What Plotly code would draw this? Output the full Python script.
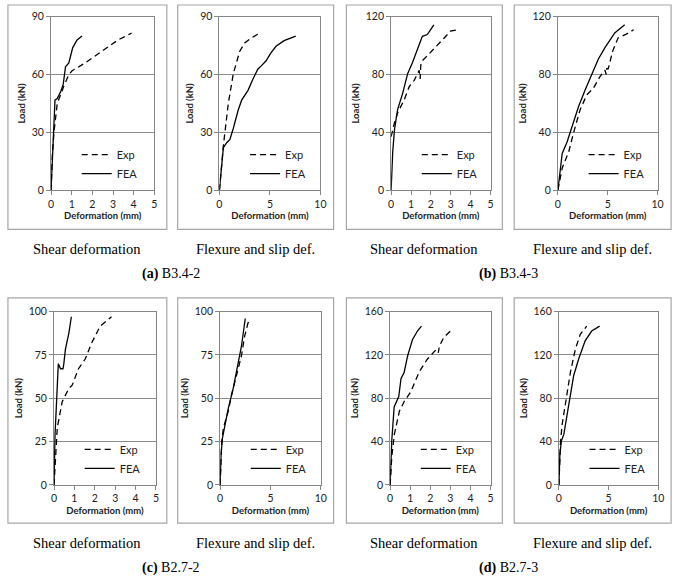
import plotly.graph_objects as go

W, H = 685, 580

# ---------------- data ----------------
# (a) B3.4-2 shear
a_sh_exp_x = [0, 0.06, 0.14, 0.3, 0.62, 0.86, 1.02, 1.65, 2.45, 3.25, 3.9]
a_sh_exp_y = [0, 18, 30, 45, 54, 60, 62, 66, 72, 78, 81.5]
a_sh_fea_x = [0, 0.1, 0.19, 0.3, 0.46, 0.59, 0.7, 0.86, 1.05, 1.26, 1.5]
a_sh_fea_y = [0, 29.7, 46.7, 47.5, 51, 55, 64, 66, 74, 78, 80]
# (a) B3.4-2 flexure
a_fl_exp_x = [0, 0.39, 0.88, 1.37, 2.0, 2.5, 3.16, 3.97]
a_fl_exp_y = [0, 23, 45, 60.3, 72, 76.4, 79, 81.5]
a_fl_fea_x = [0, 0.23, 0.39, 0.72, 1.04, 1.37, 1.86, 2.2, 2.83, 3.32, 3.8, 4.14, 4.6, 5.1, 5.6, 6.4, 7.4, 7.55]
a_fl_fea_y = [0, 16, 22, 24.6, 26.3, 32, 41.6, 46.7, 51.8, 57.7, 62.8, 64.5, 67, 71.3, 74.7, 77.6, 79.8, 80]
# (b) B3.4-3 shear
b_sh_exp_x = [0, 0.17, 0.33, 0.66, 0.91, 1.16, 1.41, 1.46, 1.5, 1.57, 1.82, 2.32, 2.65, 2.98, 3.31]
b_sh_exp_y = [37, 46.8, 53.6, 62.6, 71.6, 76, 82.9, 77, 88, 89.6, 93, 99.8, 105, 110, 111]
b_sh_fea_x = [0, 0.08, 0.17, 0.33, 0.58, 0.83, 1.08, 1.41, 1.57, 1.82, 2.15]
b_sh_fea_y = [0, 26.6, 42, 56, 67, 80.6, 88.5, 99.8, 106.5, 107.7, 114.4]
# (b) B3.4-3 flexure
b_fl_exp_x = [0, 0.43, 1.09, 1.58, 2.24, 2.9, 3.56, 4.2, 4.72, 4.85, 4.9, 5.05, 5.5, 6.04, 6.86, 7.6]
b_fl_exp_y = [0, 15.3, 26.6, 40, 55.9, 66, 70.5, 78.4, 83, 80, 84, 84, 96.4, 105.4, 108, 111]
b_fl_fea_x = [0, 0.26, 0.43, 0.92, 1.42, 2.08, 2.74, 3.4, 4.06, 4.72, 5.7, 6.7]
b_fl_fea_y = [0, 15.3, 25.4, 33.3, 44.6, 58, 69.4, 80.6, 90.8, 98.6, 108.8, 114.4]
# (c) B2.7-2 shear
c_sh_exp_x = [0, 0.08, 0.16, 0.4, 0.73, 0.89, 1.2, 1.53, 1.85, 2.26, 2.82]
c_sh_exp_y = [0, 18, 33, 48, 55.7, 57.5, 67, 72.6, 82, 91.5, 97]
c_sh_fea_x = [0, 0.05, 0.21, 0.32, 0.44, 0.48, 0.56, 0.73, 0.85]
c_sh_fea_y = [0, 29, 69.8, 67, 67, 69.8, 78.3, 87.7, 97]
# (c) B2.7-2 flexure
c_fl_exp_x = [0, 0.16, 0.33, 0.81, 1.14, 1.47, 1.79, 2.12, 2.44, 2.77, 3.1]
c_fl_exp_y = [0, 25, 33, 42.5, 52, 59.4, 67, 74.5, 85.8, 93.4, 95]
c_fl_fea_x = [0, 0.1, 0.23, 0.49, 0.81, 1.3, 1.79, 2.12, 2.5]
c_fl_fea_y = [0, 18, 27, 35, 44, 55.7, 70.8, 80, 96]
# (d) B2.7-3 shear
d_sh_exp_x = [0, 0.08, 0.21, 0.46, 0.7, 1.03, 1.44, 1.85, 2.3, 2.4, 2.45, 2.67, 3.0]
d_sh_exp_y = [0, 25.7, 46.8, 68, 77, 86, 104, 116, 125, 122, 128, 136, 142]
d_sh_fea_x = [0, 0.08, 0.2, 0.43, 0.54, 0.7, 0.87, 1.11, 1.36, 1.56]
d_sh_fea_y = [0, 40.8, 72, 81.5, 98, 104, 119, 134, 142, 146.5]
# (d) B2.7-3 flexure
d_fl_exp_x = [0, 0.17, 0.33, 0.66, 1.16, 1.65, 2.15, 2.8]
d_fl_exp_y = [0, 40.8, 56, 77, 104, 125, 139, 146.5]
d_fl_fea_x = [0, 0.1, 0.26, 0.5, 0.83, 1.16, 1.49, 1.98, 2.64, 3.3, 4.1]
d_fl_fea_y = [0, 28.7, 40.8, 46.8, 65, 83, 101, 116, 133, 142, 146.5]

series_names = ["Exp", "FEA"]
x_titles = "Deformation (mm)"
y_title = "Load (kN)"
sub_captions = ["Shear deformation", "Flexure and slip def."]
group_labels = ["<b>(a)</b> B3.4-2", "<b>(b)</b> B3.4-3", "<b>(c)</b> B2.7-2", "<b>(d)</b> B2.7-3"]

panels = [
    (a_sh_exp_x, a_sh_exp_y, a_sh_fea_x, a_sh_fea_y, 5, 1, 90, 30),
    (a_fl_exp_x, a_fl_exp_y, a_fl_fea_x, a_fl_fea_y, 10, 5, 90, 30),
    (b_sh_exp_x, b_sh_exp_y, b_sh_fea_x, b_sh_fea_y, 5, 1, 120, 40),
    (b_fl_exp_x, b_fl_exp_y, b_fl_fea_x, b_fl_fea_y, 10, 5, 120, 40),
    (c_sh_exp_x, c_sh_exp_y, c_sh_fea_x, c_sh_fea_y, 5, 1, 100, 25),
    (c_fl_exp_x, c_fl_exp_y, c_fl_fea_x, c_fl_fea_y, 10, 5, 100, 25),
    (d_sh_exp_x, d_sh_exp_y, d_sh_fea_x, d_sh_fea_y, 5, 1, 160, 40),
    (d_fl_exp_x, d_fl_exp_y, d_fl_fea_x, d_fl_fea_y, 10, 5, 160, 40),
]

# ---------------- layout geometry (pixels) ----------------
plot_x = [(48.7, 153.3), (219.3, 321.7), (393.3, 494), (562.3, 663.3),
          (51.7, 155), (220, 322), (392.3, 494), (563.3, 664)]
row_y = [(11, 188), (312, 489)]
box_x = [(5, 166), (177, 335), (348, 506), (518, 677)]
box_y = [(-1, 228), (298, 528)]

def px(x):
    return x / W

def py(y):
    return 1 - y / H

fig = go.Figure()
layout = dict(width=W, height=H, margin=dict(l=0, r=0, t=0, b=0),
              paper_bgcolor="white", plot_bgcolor="white",
              font=dict(family="Lato, Liberation Sans, sans-serif", color="#222"),
              shapes=[], annotations=[])

axis_gray = "#868686"
for i, (ex, ey, fx, fy, xmax, xdt, ymax, ydt) in enumerate(panels):
    n = i + 1
    r = 0 if i < 4 else 1
    xa = "x" if n == 1 else f"x{n}"
    ya = "y" if n == 1 else f"y{n}"
    leg = "legend" if n == 1 else f"legend{n}"
    fig.add_trace(go.Scatter(x=ex, y=ey, mode="lines", name=series_names[0],
                             line=dict(color="black", width=1.3, dash="6px,4px"),
                             xaxis=xa, yaxis=ya, legend=leg))
    fig.add_trace(go.Scatter(x=fx, y=fy, mode="lines", name=series_names[1],
                             line=dict(color="black", width=1.3),
                             xaxis=xa, yaxis=ya, legend=leg))
    x0, x1 = plot_x[i]
    y0, y1 = row_y[r]
    layout["xaxis" if n == 1 else f"xaxis{n}"] = dict(
        domain=[px(x0), px(x1)], anchor=ya, range=[0, xmax], dtick=xdt, tick0=0,
        showgrid=False, zeroline=False, showline=True, linecolor=axis_gray, linewidth=1,
        mirror=True, ticks="outside", ticklen=4, tickcolor=axis_gray,
        tickfont=dict(size=10.5, family="Lato, sans-serif", color="#222"),
        title=dict(text=f"<b>{x_titles}</b>", font=dict(size=9.5, family="Lato, sans-serif", color="#222"), standoff=3))
    layout["yaxis" if n == 1 else f"yaxis{n}"] = dict(
        domain=[py(y1), py(y0)], anchor=xa, range=[0, ymax], dtick=ydt, tick0=0,
        showgrid=True, gridcolor="#8c8c8c", gridwidth=1, zeroline=False,
        showline=True, linecolor=axis_gray, linewidth=1, mirror=True,
        ticks="outside", ticklen=4, tickcolor=axis_gray,
        tickfont=dict(size=10.5, family="Lato, sans-serif", color="#222"),
        title=dict(text=f"<b>{y_title}</b>", font=dict(size=9.5, family="Lato, sans-serif", color="#222"), standoff=4))
    layout[leg] = dict(x=px(x0 + 26), y=py(y0 + 126), xanchor="left", yanchor="top",
                       bgcolor="rgba(0,0,0,0)", font=dict(size=11, family="Lato, sans-serif", color="#222"),
                       tracegroupgap=0, itemwidth=30)

# panel boxes and captions
for r in range(2):
    for c in range(4):
        bx0, bx1 = box_x[c]
        by0, by1 = box_y[r]
        layout["shapes"].append(dict(type="rect", xref="paper", yref="paper",
                                     x0=px(bx0), x1=px(bx1), y0=py(by1), y1=py(by0),
                                     line=dict(color="#a6a6a6", width=1.2)))
        layout["annotations"].append(dict(text=sub_captions[c % 2], xref="paper", yref="paper",
                                          x=px((bx0 + bx1) / 2), y=py(by1 + 20), showarrow=False,
                                          xanchor="center", yanchor="middle",
                                          font=dict(family="Liberation Serif, serif", size=14.5, color="black")))
    for g in range(2):
        cx = (box_x[2 * g][0] + box_x[2 * g + 1][1]) / 2
        layout["annotations"].append(dict(text=group_labels[2 * r + g], xref="paper", yref="paper",
                                          x=px(cx), y=py(box_y[r][1] + 46), showarrow=False,
                                          xanchor="center", yanchor="middle",
                                          font=dict(family="Liberation Serif, serif", size=14, color="black")))

fig.update_layout(**layout)
fig.write_html("out.html", config={"displayModeBar": False},
               post_script="document.body.style.margin='0';document.body.style.padding='0';document.body.style.overflow='hidden';")
